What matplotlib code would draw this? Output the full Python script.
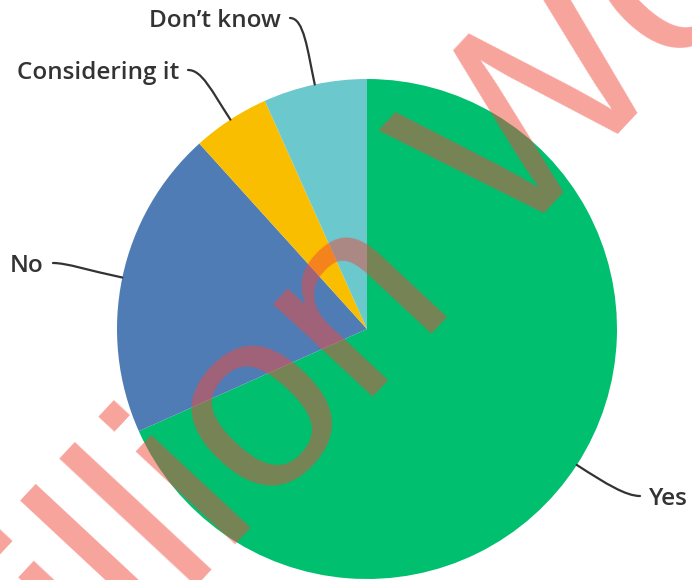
import numpy as np
import matplotlib.pyplot as plt
from matplotlib.path import Path
from matplotlib.patches import PathPatch

# Data
labels = ["Yes", "No", "Considering it", "Don\u2019t know"]
shares = [68.3, 20.0, 5.0, 6.7]
colors = ["#00BF6F", "#507CB6", "#F9BE00", "#6BC8CD"]

# Layout in pixels (y measured from top)
W, H = 692, 580
cx, cy, r = 367, 329, 250
lineEnds = [(640, 496), (53, 263), (188, 70), (290, 18)]
sides = [1, -1, -1, -1]

fig = plt.figure(figsize=(W / 100, H / 100), dpi=100)
ax = fig.add_axes([0, 0, 1, 1])
wedges, _ = ax.pie(shares, colors=colors, startangle=90, counterclock=False,
                   center=(cx, H - cy), radius=r, wedgeprops=dict(linewidth=0))
ax.set_xlim(0, W)
ax.set_ylim(0, H)
ax.set_aspect("equal")
ax.axis("off")

# Leader lines + labels
for w, lab, (ex, ey), side in zip(wedges, labels, lineEnds, sides):
    mid = np.deg2rad((w.theta1 + w.theta2) / 2)
    ux, uy = np.cos(mid), np.sin(mid)
    p0 = (cx + r * ux, H - cy + r * uy)
    p1 = (p0[0] + 35 * ux, p0[1] + 35 * uy)
    p3 = (ex, H - ey)
    p2 = (p3[0] - side * 14, p3[1])
    path = Path([p0, p1, p2, p3], [Path.MOVETO, Path.CURVE4, Path.CURVE4, Path.CURVE4])
    ax.add_patch(PathPatch(path, fill=False, lw=1.6, color="#333333", capstyle="round"))
    ax.text(ex + side * 9, H - ey, lab, ha="left" if side > 0 else "right",
            va="center_baseline", fontsize=17.5, family="Open Sans",
            fontweight="semibold", color="#333333")

# Watermark
fig.text(-0.0577, -0.448, "Million Women", rotation=47, rotation_mode="anchor",
         ha="left", va="baseline", fontsize=186, family="Liberation Sans",
         color="#EF483B", alpha=0.5)

fig.savefig("out.png", dpi=100)
